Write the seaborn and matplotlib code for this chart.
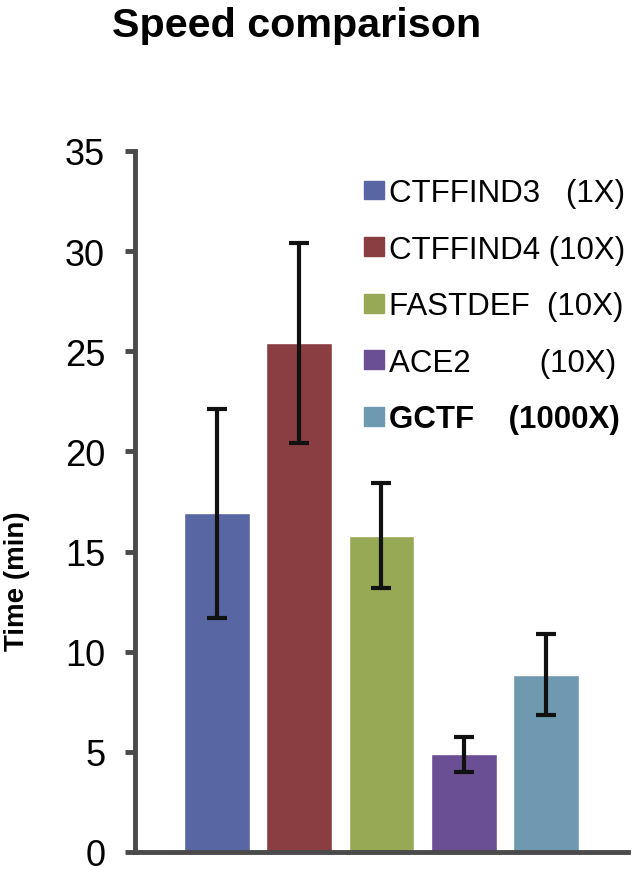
import matplotlib
matplotlib.use("Agg")
import matplotlib.pyplot as plt
import matplotlib.patches as mpatches
import seaborn as sns

methods = ["CTFFIND3", "CTFFIND4", "FASTDEF", "ACE2", "GCTF"]
legend_labels = ["CTFFIND3   (1X)", "CTFFIND4 (10X)", "FASTDEF  (10X)",
                 "ACE2        (10X)", "GCTF    (1000X)"]
times = [16.9, 25.4, 15.8, 4.87, 8.86]
errors = [5.2, 5.0, 2.62, 0.88, 2.02]
colors = ["#5867A3", "#8A3E42", "#97A954", "#6B4F94", "#6E99B0"]

sns.set_style("white")
plt.rcParams["font.family"] = ["Liberation Sans", "DejaVu Sans"]
plt.rcParams["text.color"] = "black"

fig = plt.figure(figsize=(6.32, 8.78), dpi=100)
ax = fig.add_axes([0.2136, 0.0285, 0.78, 0.7984])

sns.barplot(x=methods, y=times, hue=methods, palette=colors, legend=False,
            width=0.8, saturation=1, ax=ax)
ax.errorbar(range(len(methods)), times, yerr=errors, fmt="none", ecolor="#111111",
            elinewidth=3, capsize=7, capthick=3)

ax.set_ylim(0, 35)
ax.set_xlim(-0.994, 4.994)
ax.set_yticks(range(0, 36, 5))
ax.set_xticks([])
ax.tick_params(axis="y", direction="out", length=7, width=3.5, color="#4a4a4a",
               labelsize=26, labelcolor="black", pad=14.5, left=True)
for s in ["top", "right"]:
    ax.spines[s].set_visible(False)
for s in ["left", "bottom"]:
    ax.spines[s].set_linewidth(3.5)
    ax.spines[s].set_color("#4a4a4a")
ax.set_ylabel("Time (min)", fontsize=20, fontweight="bold", color="black")
ax.yaxis.set_label_coords(-0.213, 0.388)

handles = [mpatches.Patch(color=c) for c in colors]
leg = ax.legend(handles, legend_labels, loc="upper left", bbox_to_anchor=(0.432, 0.9836),
                frameon=False, fontsize=22.5, handlelength=0.65, handleheight=0.55,
                handletextpad=0.15, labelspacing=0.85, borderpad=0)
for t in leg.get_texts():
    t.set_color("black")
leg.get_texts()[-1].set_fontweight("bold")

fig.text(0.178, 0.992, "Speed comparison", fontsize=29.7, fontweight="bold",
         va="top", ha="left", color="black")

fig.savefig("out.png", dpi=100)
